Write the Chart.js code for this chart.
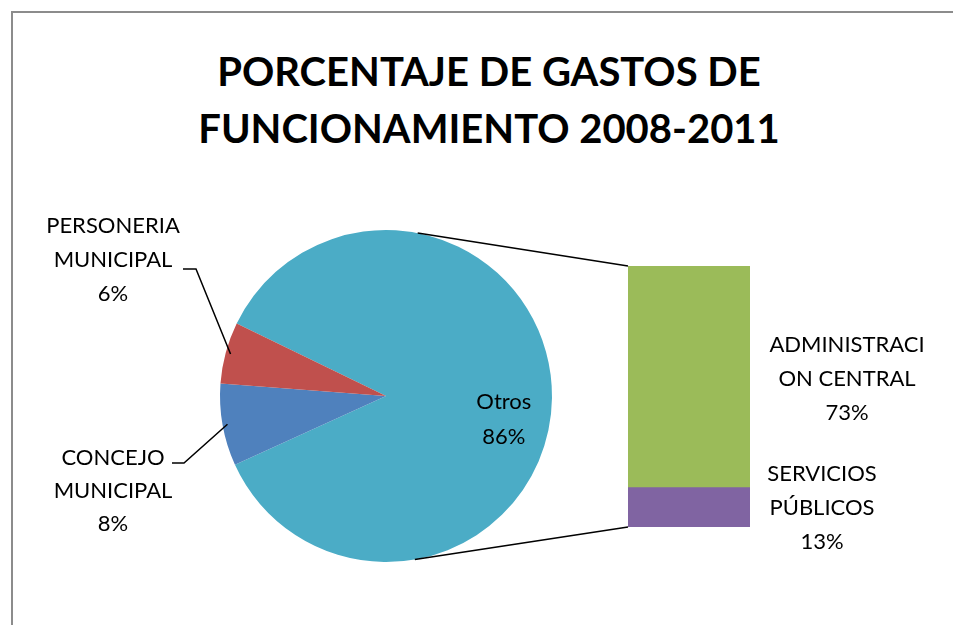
<!DOCTYPE html>
<html>
<head>
<meta charset="utf-8">
<script src="https://cdn.jsdelivr.net/npm/chart.js@4.4.0/dist/chart.umd.min.js"></script>
<style>
  body { margin: 0; background: #fff; }
  #wrap { position: relative; width: 953px; height: 625px; overflow: hidden; background: #fff; }
  #frame { position: absolute; left: 11px; top: 11px; width: 980px; height: 660px;
           border-left: 2px solid #8c8c8c; border-top: 2px solid #8c8c8c; }
  #title { position: absolute; left: 0; width: 978px; top: 43px; text-align: center;
           font: bold 40px Lato, sans-serif; line-height: 57px; color: #000; }
  canvas { position: absolute; left: 0; top: 0; }
</style>
</head>
<body>
<div id="wrap">
  <div id="frame"></div>
  <div id="title">PORCENTAJE DE GASTOS DE<br>FUNCIONAMIENTO 2008-2011</div>
  <canvas id="pie" width="953" height="625"></canvas>
  <canvas id="bar" width="953" height="625"></canvas>
</div>
<script>
// pie part (percent of total)
const pieLabels = ['Otros', 'CONCEJO MUNICIPAL', 'PERSONERIA MUNICIPAL'];
const pieValues = [86, 8, 6];
const pieColors = ['#4BACC6', '#4F81BD', '#C0504D'];

// breakdown of "Otros" shown as stacked bar
const barLabels = ['SERVICIOS PÚBLICOS', 'ADMINISTRACION CENTRAL'];
const barValues = [13, 73];
const barColors = ['#8064A2', '#9BBB59'];

// label text as wrapped in the original
const pieLabelLines = [['Otros', '86%'], ['CONCEJO', 'MUNICIPAL', '8%'], ['PERSONERIA', 'MUNICIPAL', '6%']];
const barLabelLines = [['SERVICIOS', 'PÚBLICOS', '13%'], ['ADMINISTRACI', 'ON CENTRAL', '73%']];

const labelFont = '22px Lato, sans-serif';

const pieChart = new Chart(document.getElementById('pie'), {
  type: 'pie',
  data: {
    labels: pieLabels,
    datasets: [{ data: pieValues, backgroundColor: pieColors, borderWidth: 0 }]
  },
  options: {
    responsive: false,
    animation: false,
    rotation: 295.9, // Otros starts at upper-left like the Excel chart
    layout: { padding: { left: 220, top: 230, right: 401, bottom: 63 } },
    plugins: { legend: { display: false }, tooltip: { enabled: false } }
  }
});

function drawLines(ctx, lines, cx, cy, lh) {
  const y0 = cy - (lines.length - 1) * lh / 2;
  lines.forEach((t, i) => ctx.fillText(t, cx, y0 + i * lh));
}

// connectors + labels drawn on top canvas
const overlay = {
  id: 'overlay',
  afterDraw(chart) {
    const ctx = chart.ctx;
    const arcs = pieChart.getDatasetMeta(0).data;
    const cx = arcs[0].x, cy = arcs[0].y, r = arcs[0].outerRadius;
    const top = chart.getDatasetMeta(1).data[0];
    const bot = chart.getDatasetMeta(0).data[0];
    const barLeft = top.x - top.width / 2;
    const rad = d => d * Math.PI / 180;

    ctx.save();
    ctx.strokeStyle = '#000';
    ctx.lineWidth = 1.5;
    // pie -> bar connectors
    ctx.beginPath();
    ctx.moveTo(cx + r * Math.cos(rad(-79)), cy + r * Math.sin(rad(-79)));
    ctx.lineTo(barLeft, top.y);
    ctx.moveTo(cx + r * Math.cos(rad(80)), cy + r * Math.sin(rad(80)));
    ctx.lineTo(barLeft, bot.base);
    ctx.stroke();

    // leader lines for small slices
    const mid = a => (a.startAngle + a.endAngle) / 2;
    const leaders = [null, [[172, 463], [184, 463]], [[183, 269], [196, 269]]];
    for (let i = 1; i < arcs.length; i++) {
      const m = mid(arcs[i]);
      const p = leaders[i];
      ctx.beginPath();
      ctx.moveTo(p[0][0], p[0][1]);
      ctx.lineTo(p[1][0], p[1][1]);
      ctx.lineTo(cx + r * 0.97 * Math.cos(m), cy + r * 0.97 * Math.sin(m));
      ctx.stroke();
    }

    ctx.fillStyle = '#000';
    ctx.font = labelFont;
    ctx.textAlign = 'center';
    ctx.textBaseline = 'middle';
    // Otros label inside slice
    const mo = mid(arcs[0]);
    drawLines(ctx, pieLabelLines[0], cx + r * 0.71 * Math.cos(mo), cy + r * 0.71 * Math.sin(mo) + 22, 35);
    drawLines(ctx, pieLabelLines[1], 113, 491, 33);
    drawLines(ctx, pieLabelLines[2], 113, 260, 34);
    // bar labels
    drawLines(ctx, barLabelLines[1], 847, 379, 34);
    drawLines(ctx, barLabelLines[0], 822, 508, 34);
    ctx.restore();
  }
};

new Chart(document.getElementById('bar'), {
  type: 'bar',
  data: {
    labels: ['Otros'],
    datasets: barValues.map((v, i) => ({
      label: barLabels[i],
      data: [v],
      backgroundColor: barColors[i],
      borderWidth: 0,
      barPercentage: 1,
      categoryPercentage: 1
    }))
  },
  options: {
    responsive: false,
    animation: false,
    layout: { padding: { left: 628, top: 266, right: 203, bottom: 98 } },
    scales: {
      x: { stacked: true, display: false },
      y: { stacked: true, display: false, min: 0, max: 86 }
    },
    plugins: { legend: { display: false }, tooltip: { enabled: false } }
  },
  plugins: [overlay]
});
</script>
</body>
</html>
